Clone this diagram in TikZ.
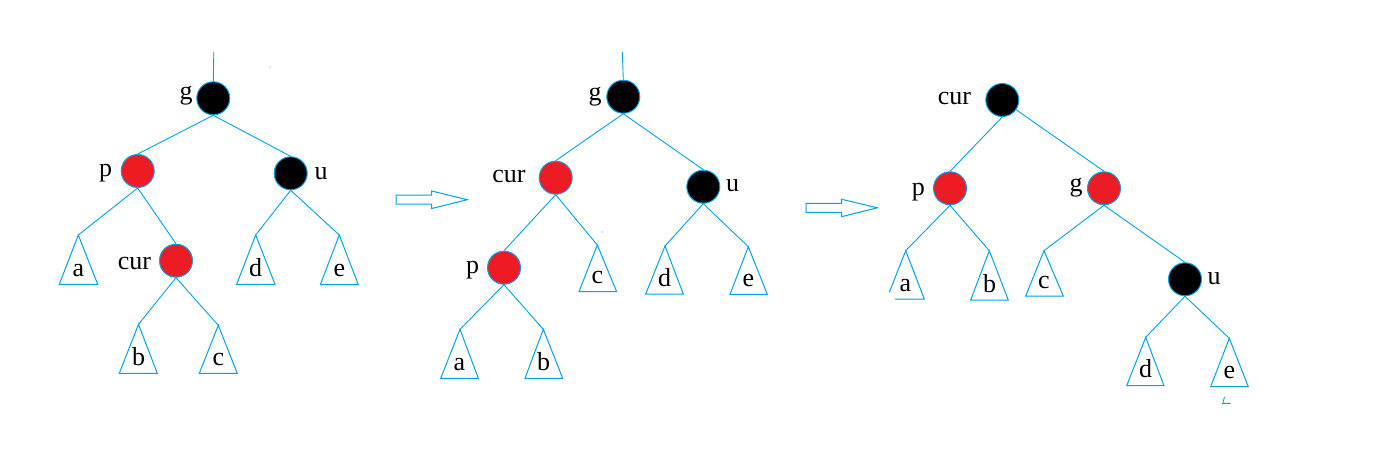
\documentclass[tikz,border=0pt]{standalone}
\usepackage{fontspec}
\setmainfont{Liberation Serif}
\definecolor{lblue}{HTML}{00A2E8}
\definecolor{pred}{HTML}{ED1C24}
\begin{document}
\begin{tikzpicture}[x=1pt,y=-1pt,
  rbnode/.style={circle,draw=lblue,line width=1pt,minimum size=33pt,inner sep=0pt},
  rednode/.style={rbnode,fill=pred},
  blknode/.style={rbnode,fill=black},
  edge/.style={lblue,line width=0.9pt},
  tri/.style={lblue,line width=1pt,line join=miter},
  lab/.style={font=\fontsize{26}{26}\selectfont,anchor=base,yshift=-6pt,inner sep=0pt,text=black},
  arr/.style={lblue,line width=1pt}]
\useasboundingbox (0,0) rectangle (1400,456);

% ---------------- Tree 1 ----------------
\node[blknode] (g1) at (213.3,98.3) {};
\node[rednode] (p1) at (137.7,171) {};
\node[blknode] (u1) at (290.7,173.3) {};
\node[rednode] (c1) at (176,260.7) {};
\coordinate (top1) at (213.8,52);
\node[lab] (lg1) at (186,93.7) {g};
\node[lab] (lp1) at (105.7,170.8) {p};
\node[lab] (lu1) at (321,173.3) {u};
\node[lab] (lc1) at (134.5,263.3) {cur};
% triangles
\coordinate (t1a) at (78.3,235);
\coordinate (t1d) at (255.7,235);
\coordinate (t1e) at (339.3,235);
\coordinate (t1b) at (138.5,324.3);
\coordinate (t1c) at (218.3,325.3);
\draw[tri] (t1a) -- (59.3,284.3) -- (97.7,284.3) -- cycle;
\draw[tri] (t1d) -- (236.7,284.3) -- (275,284.3) -- cycle;
\draw[tri] (t1e) -- (320.3,284.7) -- (358.3,284.7) -- cycle;
\draw[tri] (t1b) -- (119.3,373.3) -- (157.3,373.3) -- cycle;
\draw[tri] (t1c) -- (199.3,373.3) -- (237.3,373.3) -- cycle;
\node[lab] (la1) at (78.3,270.3) {a};
\node[lab] (ld1) at (255.7,270.3) {d};
\node[lab] (le1) at (339.3,270.7) {e};
\node[lab] (lb1) at (138.5,359.3) {b};
\node[lab] (lcc1) at (218.3,359.3) {c};
% edges
\draw[edge] (top1) -- (g1.north);
\draw[edge] (g1.south) -- (p1.north);
\draw[edge] (g1.south) -- (u1.north);
\draw[edge] (p1.south) -- (t1a);
\draw[edge] (p1.south) -- (c1.north);
\draw[edge] (u1.south) -- (t1d);
\draw[edge] (u1.south) -- (t1e);
\draw[edge] (c1.south) -- (t1b);
\draw[edge] (c1.south) -- (t1c);
\fill[lblue] (270,67) circle (0.7);

% ---------------- Arrow 1 ----------------
\draw[arr] (396,195) -- (431.7,195) -- (431.7,191) -- (467.3,199.7) -- (431.7,208.5) -- (431.7,204) -- (396,204) -- cycle;

% ---------------- Tree 2 ----------------
\node[blknode] (g2) at (623.3,96.7) {};
\node[rednode] (c2) at (555.7,177.7) {};
\node[blknode] (u2) at (703.3,186.7) {};
\node[rednode] (p2) at (504,267.7) {};
\coordinate (top2) at (622.3,52);
\node[lab] (lg2) at (595,94.2) {g};
\node[lab] (lc2) at (509,176.3) {cur};
\node[lab] (lu2) at (732.7,185.8) {u};
\node[lab] (lp2) at (472.7,267.5) {p};
\coordinate (t2c) at (597.3,245);
\coordinate (t2d) at (665,246);
\coordinate (t2e) at (748.3,246.7);
\coordinate (t2a) at (460,329.3);
\coordinate (t2b) at (543.3,329.3);
\draw[tri] (t2c) -- (579,291.7) -- (616.7,291.7) -- cycle;
\draw[tri] (t2d) -- (645.7,294) -- (683.3,294) -- cycle;
\draw[tri] (t2e) -- (730,294.3) -- (767.3,294.3) -- cycle;
\draw[tri] (t2a) -- (440.7,378.3) -- (478.3,378.3) -- cycle;
\draw[tri] (t2b) -- (525,378.3) -- (562.7,378.3) -- cycle;
\node[lab] (lcc2) at (597.3,277.7) {c};
\node[lab] (ld2) at (664.5,280) {d};
\node[lab] (le2) at (748.3,280.3) {e};
\node[lab] (la2) at (459.5,364.3) {a};
\node[lab] (lb2) at (543.5,364.3) {b};
\draw[edge] (top2) -- (g2.north);
\draw[edge] (g2.south) -- (c2.north);
\draw[edge] (g2.south) -- (u2.north);
\draw[edge] (c2.south) -- (p2.north);
\draw[edge] (c2.south) -- (t2c);
\draw[edge] (u2.south) -- (t2d);
\draw[edge] (u2.south) -- (t2e);
\draw[edge] (p2.south) -- (t2a);
\draw[edge] (p2.south) -- (t2b);
\fill[lblue] (602,232) circle (0.6);

% ---------------- Arrow 2 ----------------
\draw[arr] (806,203.3) -- (841.7,203.3) -- (841.7,199.3) -- (877.3,207.8) -- (841.7,216.7) -- (841.7,212.3) -- (806,212.3) -- cycle;

% ---------------- Tree 3 ----------------
\node[blknode] (c3) at (1002.3,100) {};
\node[rednode] (p3) at (950,188.3) {};
\node[rednode] (g3) at (1104,188.3) {};
\node[blknode] (u3) at (1185,279.3) {};
\node[lab] (lc3) at (954.5,98.7) {cur};
\node[lab] (lp3) at (918.3,189) {p};
\node[lab] (lg3) at (1076,185.8) {g};
\node[lab] (lu3) at (1214,278.7) {u};
\coordinate (t3a) at (905.7,250.7);
\coordinate (t3b) at (989.3,250.7);
\coordinate (t3c) at (1044,250.7);
\coordinate (t3d) at (1145.7,337.3);
\coordinate (t3e) at (1229.3,338.3);
\draw[tri] (889.3,292.3) -- (t3a) -- (924.3,299) -- (895,299);
\draw[tri] (t3b) -- (970.7,300) -- (1008.3,300) -- cycle;
\draw[tri] (t3c) -- (1025.7,296) -- (1063.3,296) -- cycle;
\draw[tri] (t3d) -- (1126.7,385.7) -- (1164,385.7) -- cycle;
\draw[tri] (t3e) -- (1210.7,386.7) -- (1248.3,386.7) -- cycle;
\node[lab] (la3) at (905.5,285) {a};
\node[lab] (lb3) at (989.5,286) {b};
\node[lab] (lcc3) at (1044,282) {c};
\node[lab] (ld3) at (1145.5,371.7) {d};
\node[lab] (le3) at (1229.3,372.7) {e};
\draw[edge] (c3.south) -- (p3.north);
\draw[edge] (c3) -- (g3.north);
\draw[edge] (p3.south) -- (t3a);
\draw[edge] (p3.south) -- (t3b);
\draw[edge] (g3.south) -- (t3c);
\draw[edge] (g3.south) -- (u3.north);
\draw[edge] (u3.south) -- (t3d);
\draw[edge] (u3.south) -- (t3e);
\draw[edge] (1224.5,397) -- (1222.7,403.3) -- (1230.7,403.3);
\end{tikzpicture}
\end{document}
